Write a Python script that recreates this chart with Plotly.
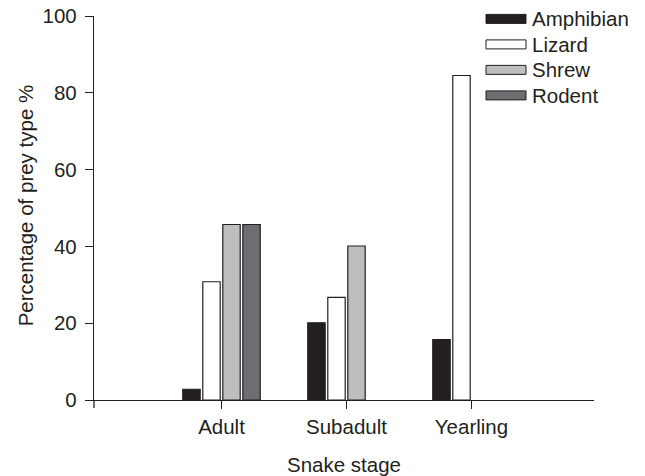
import plotly.graph_objects as go

# ---- data ----
stages = ["Adult", "Subadult", "Yearling"]
stage_pos = [0, 1, 2]
prey_names = ["Amphibian", "Lizard", "Shrew", "Rodent"]
amphibian = [2.8, 20.1, 15.7]
lizard = [30.8, 26.7, 84.5]
shrew = [45.7, 40.1, 0]
rodent = [45.7, 0, 0]
y_ticks = [0, 20, 40, 60, 80, 100]

series = [amphibian, lizard, shrew, rodent]
fills = ["#231f20", "#ffffff", "#bcbec0", "#6d6e71"]
ink = "#231f20"
FONT = "Liberation Sans, Arial, Helvetica, sans-serif"
FS = 20.5

# the page has an 8px body margin; work in reference pixels and shift
OFF = 8
W, H = 645 - OFF, 476 - OFF
PL, PR, PT, PB = 94, 594, 15.6, 399.7          # plot area in reference pixels
ML, MT = PL - OFF, PT - OFF
MR, MB = W - (PR - OFF), H - (PB - OFF)
PW, PH = PR - PL, PB - PT

def px_x(px):
    return (px - PL) / PW

def px_y(py):
    return (PB - py) / PH

fig = go.Figure()
for name, vals, col in zip(prey_names, series, fills):
    fig.add_trace(go.Bar(
        x=stage_pos, y=[v if v else None for v in vals], name=name,
        marker=dict(color=col, line=dict(color=ink, width=1.2)),
        showlegend=False,
    ))

shapes = []
annotations = []
# custom legend (wide flat swatches as in the reference)
row_centers = [18.5, 44, 69.5, 95]
for name, col, cy in zip(prey_names, fills, row_centers):
    shapes.append(dict(type="rect", xref="paper", yref="paper",
                       x0=px_x(486), x1=px_x(526),
                       y0=px_y(cy + 4.5), y1=px_y(cy - 4.5),
                       fillcolor=col, line=dict(color=ink, width=1)))
    annotations.append(dict(xref="paper", yref="paper", x=px_x(530), y=px_y(cy),
                            xanchor="left", yanchor="middle", text=name,
                            showarrow=False, font=dict(family=FONT, size=FS, color=ink)))

# tick at left end of the x axis (extends y axis below zero)
shapes.append(dict(type="line", xref="paper", yref="paper", x0=0, x1=0,
                   ysizemode="pixel", yanchor=0, y0=0, y1=-8,
                   line=dict(color=ink, width=1.3)))

annotations.append(dict(xref="paper", yref="paper", x=px_x(344), y=px_y(464),
                        xanchor="center", yanchor="middle", text="Snake stage",
                        showarrow=False, font=dict(family=FONT, size=FS, color=ink)))
annotations.append(dict(xref="paper", yref="paper", x=px_x(25), y=px_y(205),
                        xanchor="center", yanchor="middle", text="Percentage of prey type %",
                        textangle=-90, showarrow=False,
                        font=dict(family=FONT, size=FS, color=ink)))

fig.update_layout(
    width=W, height=H,
    margin=dict(l=ML, r=MR, t=MT, b=MB, pad=0, autoexpand=False),
    paper_bgcolor="white", plot_bgcolor="white",
    barmode="group", bargap=0.3595, bargroupgap=0.13,
    font=dict(family=FONT, size=FS, color=ink),
    shapes=shapes, annotations=annotations,
    xaxis=dict(range=[-1.02, 2.98], tickmode="array", tickvals=stage_pos, ticktext=stages,
               showline=True, linecolor=ink, linewidth=1.3, ticks="outside", ticklen=8,
               tickwidth=1.3, tickcolor=ink, showgrid=False, zeroline=False,
               automargin=False, ticklabeloverflow="allow",
               tickfont=dict(family=FONT, size=FS, color=ink)),
    yaxis=dict(range=[0, 100], tickmode="array", tickvals=y_ticks,
               showline=True, linecolor=ink, linewidth=1.3, ticks="outside", ticklen=8,
               tickwidth=1.3, tickcolor=ink, showgrid=False, zeroline=False,
               ticklabelstandoff=4, automargin=False, ticklabeloverflow="allow",
               tickfont=dict(family=FONT, size=FS, color=ink)),
)

fig.write_html("out.html")
